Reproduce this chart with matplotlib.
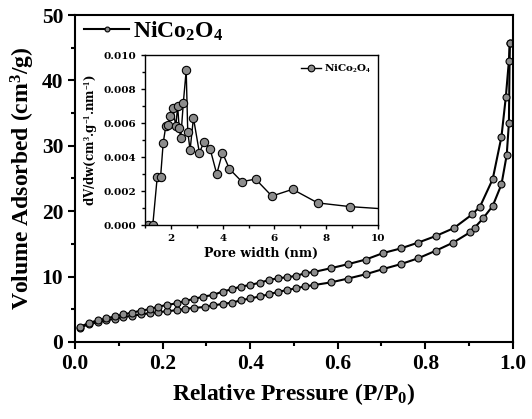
import matplotlib
matplotlib.use("Agg")
import matplotlib.pyplot as plt
from matplotlib.ticker import MultipleLocator

plt.rcParams['font.family'] = ['Liberation Serif', 'DejaVu Serif']
plt.rcParams['font.weight'] = 'bold'
plt.rcParams['mathtext.fontset'] = 'custom'
plt.rcParams['mathtext.rm'] = 'Liberation Serif:bold'
plt.rcParams['mathtext.default'] = 'rm'

# Adsorption branch
ads_p = [0.011, 0.032, 0.052, 0.071, 0.091, 0.110, 0.131, 0.151, 0.171, 0.190,
         0.211, 0.232, 0.251, 0.272, 0.297, 0.316, 0.337, 0.358, 0.378, 0.400,
         0.422, 0.444, 0.464, 0.485, 0.505, 0.525, 0.546, 0.584, 0.624, 0.664,
         0.704, 0.744, 0.784, 0.824, 0.864, 0.903, 0.913, 0.932, 0.954, 0.974,
         0.986, 0.991, 0.993]
ads_v = [2.2, 2.7, 3.0, 3.3, 3.55, 3.8, 4.0, 4.2, 4.4, 4.55,
         4.7, 4.85, 5.05, 5.2, 5.35, 5.6, 5.8, 6.0, 6.35, 6.65,
         6.95, 7.3, 7.65, 7.95, 8.2, 8.5, 8.7, 9.1, 9.7, 10.35,
         11.15, 11.9, 12.8, 13.95, 15.2, 16.8, 17.5, 18.9, 20.8, 24.1,
         28.6, 33.5, 45.7]
# Desorption branch
des_p = [0.993, 0.991, 0.984, 0.974, 0.954, 0.925, 0.907, 0.865, 0.824, 0.784,
         0.744, 0.704, 0.664, 0.624, 0.584, 0.546, 0.525, 0.505, 0.485, 0.464,
         0.444, 0.422, 0.400, 0.378, 0.358, 0.337, 0.316, 0.293, 0.272, 0.251,
         0.232, 0.211, 0.190, 0.171, 0.151, 0.131, 0.110, 0.091, 0.071, 0.052,
         0.032, 0.011]
des_v = [45.7, 43.0, 37.5, 31.4, 24.9, 20.7, 19.5, 17.4, 16.2, 15.2,
         14.3, 13.6, 12.6, 11.9, 11.27, 10.7, 10.5, 10.1, 9.9, 9.74,
         9.48, 9.07, 8.7, 8.46, 8.05, 7.7, 7.19, 6.93, 6.57, 6.27,
         5.9, 5.66, 5.4, 5.0, 4.79, 4.48, 4.2, 3.9, 3.6, 3.3,
         2.9, 2.3]

# Pore size distribution
pore_w = [1.12, 1.30, 1.47, 1.60, 1.70, 1.80, 1.88, 1.97, 2.07, 2.19, 2.26,
          2.32, 2.38, 2.48, 2.59, 2.65, 2.74, 2.87, 3.10, 3.28, 3.51, 3.77,
          3.99, 4.26, 4.74, 5.27, 5.90, 6.70, 7.67, 8.93, 10.2]
pore_v = [0.0, 0.0, 0.0028, 0.0028, 0.0048, 0.0058, 0.0059, 0.0064, 0.0069,
          0.0058, 0.0070, 0.0057, 0.0051, 0.0072, 0.0091, 0.0055, 0.0044,
          0.0063, 0.00425, 0.0049, 0.0045, 0.0030, 0.00425, 0.0033, 0.00255,
          0.0027, 0.0017, 0.0021, 0.0013, 0.00108, 0.00095]

label = 'NiCo$_2$O$_4$'
mk = dict(marker='o', markerfacecolor='#8c8c8c', markeredgecolor='black',
          color='black')

fig = plt.figure(figsize=(5.32, 4.19), dpi=100)
ax = fig.add_axes([0.141, 0.184, 0.823, 0.780])
ax.plot(ads_p, ads_v, lw=1.5, markersize=5, markeredgewidth=0.8, label=label, **mk)
ax.plot(des_p, des_v, lw=1.5, markersize=5, markeredgewidth=0.8, **mk)
ax.set_xlim(0, 1.0)
ax.set_ylim(0, 50)
ax.xaxis.set_major_locator(MultipleLocator(0.2))
ax.xaxis.set_minor_locator(MultipleLocator(0.1))
ax.yaxis.set_major_locator(MultipleLocator(10))
ax.yaxis.set_minor_locator(MultipleLocator(5))
ax.tick_params(which='both', direction='out', labelsize=15.5, width=1.5)
ax.tick_params(which='major', length=5)
ax.tick_params(which='minor', length=3)
for s in ax.spines.values():
    s.set_linewidth(1.5)
ax.xaxis.set_major_formatter(plt.FuncFormatter(lambda v, _: f'{v:.1f}'))
ax.set_xlabel('Relative Pressure (P/P$_0$)', fontsize=17, fontweight='bold', labelpad=5)
ax.set_ylabel('Volume Adsorbed (cm$^3$/g)', fontsize=17, fontweight='bold', labelpad=3)
leg = ax.legend(loc='upper left', frameon=False, fontsize=17, handlelength=1.9,
                borderaxespad=0.0, handletextpad=0.15, markerscale=0.7,
                bbox_to_anchor=(0.0, 1.015))

inset_font = ['DejaVu Serif']
ins = fig.add_axes([0.2726, 0.463, 0.438, 0.4057])
ins.plot(pore_w, pore_v, lw=1.0, markersize=6, markeredgewidth=0.8, label=label, **mk)
ins.set_xlim(1, 10)
ins.set_ylim(0, 0.010)
ins.xaxis.set_major_locator(MultipleLocator(2))
ins.xaxis.set_minor_locator(MultipleLocator(1))
ins.yaxis.set_major_locator(MultipleLocator(0.002))
ins.yaxis.set_minor_locator(MultipleLocator(0.001))
ins.yaxis.set_major_formatter(plt.FuncFormatter(lambda v, _: f'{v:.3f}'))
ins.xaxis.set_major_formatter(plt.FuncFormatter(lambda v, _: f'{v:.0f}'))
ins.tick_params(which='both', direction='out', width=1.0)
ins.tick_params(which='major', length=3)
ins.tick_params(which='minor', length=2)
for t in ins.get_xticklabels() + ins.get_yticklabels():
    t.set_family(inset_font)
    t.set_fontsize(7.5)
    t.set_fontweight('bold')
for s in ins.spines.values():
    s.set_linewidth(1.0)
ins.set_xlabel('Pore width (nm)', fontsize=9, fontweight='bold', labelpad=3,
               family=inset_font)
ins.set_ylabel('dV/dw(cm$^3$.g$^{-1}$.nm$^{-1}$)', fontsize=8.5, fontweight='bold',
               labelpad=2, family=inset_font)
ins.legend(loc='upper right', frameon=False, handlelength=2.0,
           borderaxespad=0.3, handletextpad=0.2, markerscale=0.8,
           prop=dict(family=inset_font, size=7.5, weight='bold'))

fig.savefig('out.png', dpi=100)
